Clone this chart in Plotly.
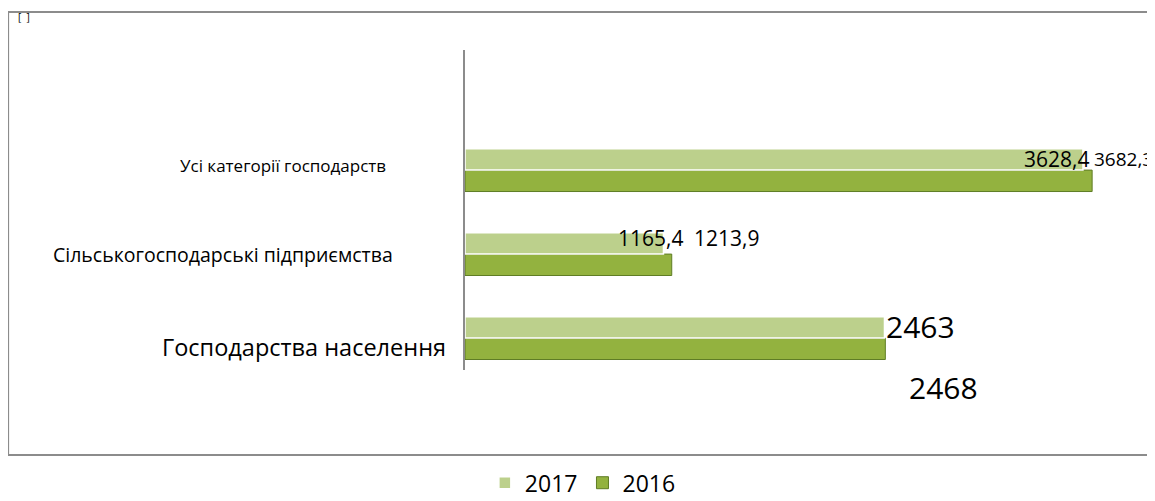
import plotly.graph_objects as go

categories = ["Господарства населення", "Сільськогосподарські підприємства", "Усі категорії господарств"]
values_2017 = [2463, 1165.4, 3628.4]
values_2016 = [2468, 1213.9, 3682.3]
series_names = ["2017", "2016"]


def fmt(v):
    return f"{v:g}".replace(".", ",")


FONT = "Open Sans"
fig = go.Figure()
fig.add_trace(go.Bar(
    name=series_names[1], y=categories, x=values_2016, orientation="h",
    marker=dict(color="#93b23f", line=dict(color="#5f7d25", width=1)),
    legendrank=2,
))
fig.add_trace(go.Bar(
    name=series_names[0], y=categories, x=values_2017, orientation="h",
    marker=dict(color="#bcd08c", line=dict(color="#ffffff", width=1.5)),
    legendrank=1,
))

annotations = []
# category labels (different sizes as in the original)
cat_label_style = [
    (-0.0248, -9, 23.5),   # Господарства населення
    (-0.1022, 0, 19.5),    # Сільськогосподарські підприємства
    (-0.1124, 5, 17),      # Усі категорії господарств
]
for cat, (xp, ys, fs) in zip(categories, cat_label_style):
    annotations.append(dict(
        xref="paper", x=xp, yref="y", y=cat, text=cat, showarrow=False,
        xanchor="right", yanchor="middle", yshift=ys,
        font=dict(family=FONT, size=fs, color="#000000"),
    ))

# data labels
lab_2017 = [(0, 12, 30), (-47, 16, 21), (-61, 11, 21)]
lab_2016 = [(22, -49, 30), (20, 16, 21), (0, 11, 19)]
for vals, styles in ((values_2017, lab_2017), (values_2016, lab_2016)):
    for cat, v, (xs, ys, fs) in zip(categories, vals, styles):
        annotations.append(dict(
            xref="x", x=v, yref="y", y=cat, text=fmt(v), showarrow=False,
            xanchor="left", yanchor="middle", xshift=xs, yshift=ys,
            font=dict(family=FONT, size=fs, color="#000000"),
        ))

annotations.append(dict(
    xref="paper", x=-0.655, yref="paper", y=1.131, text="[  ]", showarrow=False,
    xanchor="left", yanchor="top", font=dict(family=FONT, size=10, color="#000000"),
))

fig.update_layout(
    width=1147, height=493,
    margin=dict(l=457, r=5, t=42, b=131),
    paper_bgcolor="#ffffff", plot_bgcolor="#ffffff",
    barmode="group", bargap=0.49, bargroupgap=0,
    font=dict(family=FONT, color="#000000"),
    xaxis=dict(range=[0, 4022], visible=False),
    yaxis=dict(
        categoryorder="array", categoryarray=categories,
        range=[-0.38, 3.43], showticklabels=False, ticks="",
        showgrid=False, zeroline=False,
        showline=True, linecolor="#8c8c8c", linewidth=2,
    ),
    legend=dict(
        orientation="h", xref="paper", x=0.029, xanchor="left",
        yref="container", y=0.037, yanchor="middle",
        font=dict(family=FONT, size=23, color="#000000"),
        itemwidth=30,
    ),
    annotations=annotations,
    shapes=[dict(
        type="rect", xref="paper", yref="paper",
        x0=-0.667, x1=1.02, y0=-0.266, y1=1.119,
        line=dict(color="#8c8c8c", width=2), fillcolor="rgba(0,0,0,0)", layer="below",
    )],
)

fig.write_html("out.html")
